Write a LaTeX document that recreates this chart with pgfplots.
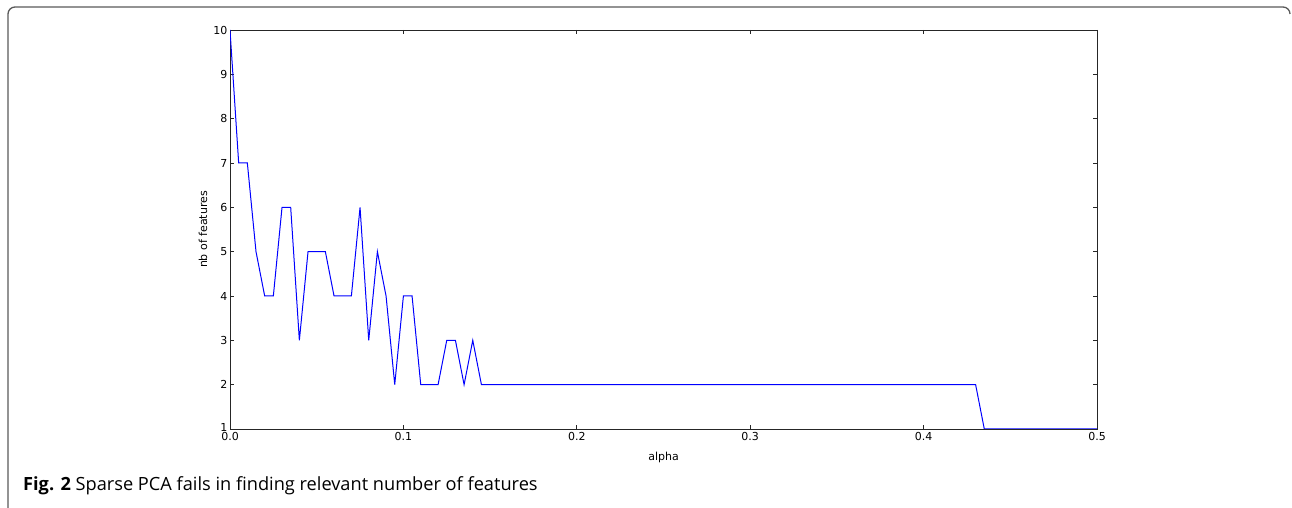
\documentclass[border=0pt]{standalone}
\usepackage{fontspec}
\setmainfont{DejaVu Sans}
\newfontfamily\capfont{Open Sans}
\usepackage{pgfplots}
\pgfplotsset{compat=1.18}
\begin{document}
\begin{tikzpicture}
\useasboundingbox (0pt,0pt) rectangle (1292pt,508pt);
\draw[black!65, line width=1.3pt, rounded corners=7pt] (8pt,-2pt) -- (8pt,501pt) -- (1290pt,501pt) -- (1290pt,494pt);
\begin{axis}[
  at={(230pt,79pt)}, anchor=south west,
  scale only axis, width=867pt, height=399pt,
  xmin=0, xmax=0.5, ymin=1, ymax=10,
  xtick={0,0.1,0.2,0.3,0.4,0.5},
  xticklabels={0.0,0.1,0.2,0.3,0.4,0.5},
  ytick={1,2,3,4,5,6,7,8,9,10},
  yticklabels={\raisebox{3pt}{1},2,3,4,5,6,7,8,9,10},
  tick align=inside,
  major tick length=4pt,
  axis line style={black!85, line width=0.9pt},
  every tick/.style={black!85, line width=0.7pt},
  /pgf/number format/assume math mode=true,
  tick label style={font=\fontsize{11}{13}\selectfont},
  xticklabel style={yshift=0pt},
  yticklabel style={xshift=1pt},
  label style={font=\fontsize{11}{13}\selectfont},
  xlabel={alpha},
  ylabel={nb of features},
  xlabel style={at={(axis description cs:0.5,0)}, anchor=center, yshift=-28pt},
  ylabel style={at={(axis description cs:-0.031,0.5)}, anchor=center},
]
\addplot[blue, line width=1pt, mark=none] coordinates {
(0.000,10) (0.005,7) (0.010,7) (0.015,5) (0.020,4) (0.025,4) (0.030,6) (0.035,6)
(0.040,3) (0.045,5) (0.050,5) (0.055,5) (0.060,4) (0.065,4) (0.070,4) (0.075,6)
(0.080,3) (0.085,5) (0.090,4) (0.095,2) (0.100,4) (0.105,4) (0.110,2) (0.115,2)
(0.120,2) (0.125,3) (0.130,3) (0.135,2) (0.140,3) (0.145,2) (0.430,2) (0.435,1)
(0.500,1)
};
\end{axis}
\node[anchor=base west, inner sep=0pt] at (23pt,17pt) {\capfont\fontsize{18.2}{21}\selectfont\textbf{Fig. 2} Sparse PCA fails in finding relevant number of features};
\end{tikzpicture}
\end{document}
